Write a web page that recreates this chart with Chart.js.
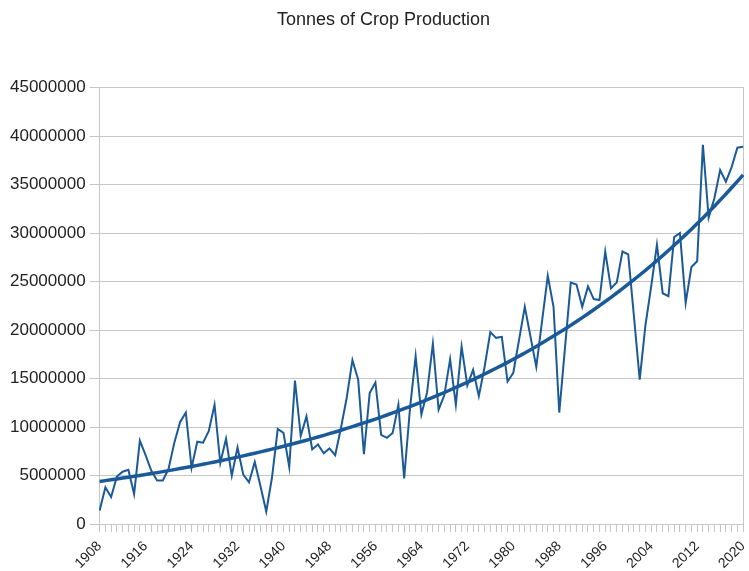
<!DOCTYPE html>
<html>
<head>
<meta charset="utf-8">
<script src="https://cdn.jsdelivr.net/npm/chart.js@4/dist/chart.umd.min.js"></script>
<style>
  html, body { margin: 0; padding: 0; background: #fff; overflow: hidden; }
  #wrap { width: 749px; height: 571px; overflow: hidden; }
</style>
</head>
<body>
<div id="wrap"><canvas id="cropChart" width="761" height="578"></canvas></div>
<script>
// years on the category axis, one point a year
const firstYear = 1908;
const lastYear = 2020;
const years = [];
for (let y = firstYear; y <= lastYear; y++) years.push(String(y));

// labelled years on the x axis
const tickYears = ['1908', '1916', '1924', '1932', '1940', '1948', '1956', '1964',
  '1972', '1980', '1988', '1996', '2004', '2012', '2020'];

// production in millions of tonnes (1908 .. 2020)
const productionMillions = [
  1.4, 3.8, 2.8, 4.9, 5.4, 5.6, 3.1, 8.6,
  7.1, 5.5, 4.5, 4.5, 5.7, 8.4, 10.5, 11.5,
  5.8, 8.5, 8.4, 9.6, 12.3, 6.3, 8.8, 5.0,
  7.9, 5.1, 4.3, 6.4, 3.9, 1.3, 4.8, 9.8,
  9.4, 5.9, 14.8, 9.1, 11.1, 7.7, 8.2, 7.3,
  7.8, 7.1, 9.9, 13.0, 16.9, 14.9, 7.2, 13.5,
  14.6, 9.2, 8.9, 9.4, 12.3, 4.7, 11.8, 17.3,
  11.3, 13.6, 18.6, 11.8, 13.3, 17.0, 12.3, 18.3,
  14.3, 15.9, 13.2, 16.2, 19.8, 19.2, 19.3, 14.7,
  15.6, 19.0, 22.4, 19.3, 16.2, 20.9, 25.6, 22.4,
  11.5, 18.2, 24.9, 24.7, 22.4, 24.5, 23.2, 23.1,
  28.1, 24.3, 24.9, 28.1, 27.8, 21.4, 14.9, 20.5,
  24.5, 28.8, 23.8, 23.5, 29.6, 30.0, 22.8, 26.5,
  27.1, 39.1, 31.6, 33.6, 36.5, 35.3, 36.8, 38.8,
  38.9
];

// exponential trend line: value at first and last year
const trendEnds = [4.4, 36.0];

const production = productionMillions.map(v => v * 1e6);
const growth = Math.log(trendEnds[1] / trendEnds[0]) / (lastYear - firstYear);
const trend = years.map((_, i) => trendEnds[0] * Math.exp(growth * i) * 1e6);

const lineBlue = '#1b5a98';
const gridGrey = '#c6c6c6';
const font = 'Liberation Sans, Arial, sans-serif';

new Chart(document.getElementById('cropChart').getContext('2d'), {
  type: 'line',
  data: {
    labels: years,
    datasets: [
      {
        label: 'Production',
        data: production,
        borderColor: lineBlue,
        borderWidth: 2,
        pointRadius: 0,
        tension: 0,
        fill: false
      },
      {
        label: 'Trend',
        data: trend,
        borderColor: lineBlue,
        borderWidth: 3.5,
        pointRadius: 0,
        tension: 0,
        fill: false
      }
    ]
  },
  options: {
    responsive: false,
    animation: false,
    layout: { padding: { left: 6, right: 0, top: 0, bottom: 0 } },
    plugins: {
      legend: { display: false },
      tooltip: { enabled: false },
      title: {
        display: true,
        text: 'Tonnes of Crop Production',
        color: '#222',
        font: { family: font, size: 18, weight: 'normal' },
        padding: { top: 9, bottom: 57 }
      }
    },
    scales: {
      x: {
        grid: { drawOnChartArea: false, color: gridGrey, tickLength: 8 },
        border: { color: gridGrey },
        ticks: {
          autoSkip: false,
          maxRotation: 45,
          minRotation: 45,
          padding: 6,
          color: '#222',
          font: { family: font, size: 14 },
          callback: function (value) {
            const lab = this.getLabelForValue(value);
            return tickYears.includes(lab) ? lab : '';
          }
        }
      },
      y: {
        min: 0,
        max: 45000000,
        grid: { color: gridGrey, tickLength: 10 },
        border: { color: gridGrey },
        ticks: {
          stepSize: 5000000,
          padding: 4,
          color: '#222',
          font: { family: font, size: 17 },
          callback: v => String(v)
        }
      },
      // right edge of the plot frame
      yRight: {
        position: 'right',
        min: 0,
        max: 45000000,
        grid: { drawOnChartArea: false, drawTicks: false },
        border: { color: gridGrey },
        ticks: { display: false }
      }
    }
  }
});
</script>
</body>
</html>
